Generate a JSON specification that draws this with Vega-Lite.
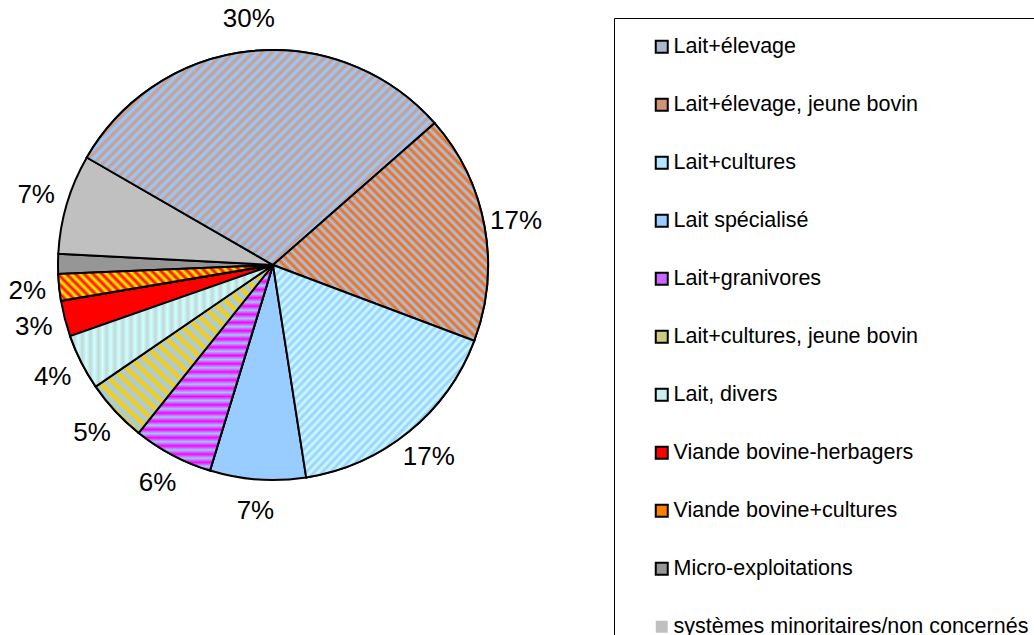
{
  "$schema": "https://vega.github.io/schema/vega-lite/v6.json",
  "width": 546,
  "height": 530,
  "autosize": {"type": "none"},
  "padding": {"left": 0, "top": 0, "right": 488, "bottom": 105},
  "background": "white",
  "config": {"view": {"stroke": null}, "font": "Liberation Sans"},
  "data": {
    "values": [
      {"ord": 1, "cat": "Lait+élevage", "pct": 30.2, "label": "30%"},
      {"ord": 2, "cat": "Lait+élevage, jeune bovin", "pct": 17.2, "label": "17%"},
      {"ord": 3, "cat": "Lait+cultures", "pct": 16.8, "label": "17%"},
      {"ord": 4, "cat": "Lait spécialisé", "pct": 7.2, "label": "7%"},
      {"ord": 5, "cat": "Lait+granivores", "pct": 6.0, "label": "6%"},
      {"ord": 6, "cat": "Lait+cultures, jeune bovin", "pct": 4.7, "label": "5%"},
      {"ord": 7, "cat": "Lait, divers", "pct": 4.2, "label": "4%"},
      {"ord": 8, "cat": "Viande bovine-herbagers", "pct": 2.7, "label": "3%"},
      {"ord": 9, "cat": "Viande bovine+cultures", "pct": 2.0, "label": "2%"},
      {"ord": 10, "cat": "Micro-exploitations", "pct": 1.5, "label": ""},
      {"ord": 11, "cat": "systèmes minoritaires/non concernés", "pct": 7.5, "label": "7%"}
    ]
  },
  "transform": [
    {"stack": "pct", "groupby": [], "sort": [{"field": "ord", "order": "ascending"}], "as": ["t0", "t1"]}
  ],
  "layer": [
    {
      "mark": {"type": "arc", "outerRadius": 215, "stroke": "black", "strokeWidth": 2},
      "encoding": {
        "theta": {"field": "t0", "type": "quantitative", "stack": null, "scale": {"domain": [0, 100], "range": [-1.0472, 5.23599]}},
        "theta2": {"field": "t1"},
        "color": {
          "field": "cat",
          "type": "nominal",
          "scale": {
            "domain": ["Lait+élevage", "Lait+élevage, jeune bovin", "Lait+cultures", "Lait spécialisé", "Lait+granivores", "Lait+cultures, jeune bovin", "Lait, divers", "Viande bovine-herbagers", "Viande bovine+cultures", "Micro-exploitations", "systèmes minoritaires/non concernés"],
            "range": ["#ADB8CC", "#D19473", "#B3E6FF", "#99CCFF", "#CC66FF", "#CCCC80", "#C9EFEF", "#FF0000", "#FF8000", "#969696", "#C0C0C0"]
          },
          "legend": {
            "title": null,
            "orient": "none",
            "legendX": 614,
            "legendY": 18,
            "padding": 18,
            "strokeColor": "black",
            "symbolType": "square",
            "symbolSize": 144,
            "symbolStrokeColor": "black",
            "symbolStrokeWidth": 2,
            "symbolOffset": 19,
            "labelOffset": 1,
            "labelFontSize": 21.5,
            "labelFont": "Liberation Sans",
            "labelColor": "black",
            "labelLimit": 600,
            "rowPadding": 35,
            "encode": {
              "symbols": {
                "update": {
                  "strokeWidth": {"signal": "datum.value === 'systèmes minoritaires/non concernés' ? 0 : 2"}
                }
              }
            }
          }
        }
      }
    },
    {
      "transform": [{"filter": "datum.ord === 1"}],
      "mark": {"type": "arc", "outerRadius": 215, "stroke": "black", "strokeWidth": 2,
        "fill": {"gradient": "linear", "x1": 0, "y1": 0, "x2": 1, "y2": 0.62, "stops": [
          {"offset":0,"color":"#99CCFF"},{"offset":0.01,"color":"#C99B8C"},{"offset":0.02,"color":"#99CCFF"},{"offset":0.03,"color":"#C99B8C"},{"offset":0.04,"color":"#99CCFF"},{"offset":0.05,"color":"#C99B8C"},{"offset":0.06,"color":"#99CCFF"},{"offset":0.07,"color":"#C99B8C"},{"offset":0.08,"color":"#99CCFF"},{"offset":0.09,"color":"#C99B8C"},
          {"offset":0.1,"color":"#99CCFF"},{"offset":0.11,"color":"#C99B8C"},{"offset":0.12,"color":"#99CCFF"},{"offset":0.13,"color":"#C99B8C"},{"offset":0.14,"color":"#99CCFF"},{"offset":0.15,"color":"#C99B8C"},{"offset":0.16,"color":"#99CCFF"},{"offset":0.17,"color":"#C99B8C"},{"offset":0.18,"color":"#99CCFF"},{"offset":0.19,"color":"#C99B8C"},
          {"offset":0.2,"color":"#99CCFF"},{"offset":0.21,"color":"#C99B8C"},{"offset":0.22,"color":"#99CCFF"},{"offset":0.23,"color":"#C99B8C"},{"offset":0.24,"color":"#99CCFF"},{"offset":0.25,"color":"#C99B8C"},{"offset":0.26,"color":"#99CCFF"},{"offset":0.27,"color":"#C99B8C"},{"offset":0.28,"color":"#99CCFF"},{"offset":0.29,"color":"#C99B8C"},
          {"offset":0.3,"color":"#99CCFF"},{"offset":0.31,"color":"#C99B8C"},{"offset":0.32,"color":"#99CCFF"},{"offset":0.33,"color":"#C99B8C"},{"offset":0.34,"color":"#99CCFF"},{"offset":0.35,"color":"#C99B8C"},{"offset":0.36,"color":"#99CCFF"},{"offset":0.37,"color":"#C99B8C"},{"offset":0.38,"color":"#99CCFF"},{"offset":0.39,"color":"#C99B8C"},
          {"offset":0.4,"color":"#99CCFF"},{"offset":0.41,"color":"#C99B8C"},{"offset":0.42,"color":"#99CCFF"},{"offset":0.43,"color":"#C99B8C"},{"offset":0.44,"color":"#99CCFF"},{"offset":0.45,"color":"#C99B8C"},{"offset":0.46,"color":"#99CCFF"},{"offset":0.47,"color":"#C99B8C"},{"offset":0.48,"color":"#99CCFF"},{"offset":0.49,"color":"#C99B8C"},
          {"offset":0.5,"color":"#99CCFF"},{"offset":0.51,"color":"#C99B8C"},{"offset":0.52,"color":"#99CCFF"},{"offset":0.53,"color":"#C99B8C"},{"offset":0.54,"color":"#99CCFF"},{"offset":0.55,"color":"#C99B8C"},{"offset":0.56,"color":"#99CCFF"},{"offset":0.57,"color":"#C99B8C"},{"offset":0.58,"color":"#99CCFF"},{"offset":0.59,"color":"#C99B8C"},
          {"offset":0.6,"color":"#99CCFF"},{"offset":0.61,"color":"#C99B8C"},{"offset":0.62,"color":"#99CCFF"},{"offset":0.63,"color":"#C99B8C"},{"offset":0.64,"color":"#99CCFF"},{"offset":0.65,"color":"#C99B8C"},{"offset":0.66,"color":"#99CCFF"},{"offset":0.67,"color":"#C99B8C"},{"offset":0.68,"color":"#99CCFF"},{"offset":0.69,"color":"#C99B8C"},
          {"offset":0.7,"color":"#99CCFF"},{"offset":0.71,"color":"#C99B8C"},{"offset":0.72,"color":"#99CCFF"},{"offset":0.73,"color":"#C99B8C"},{"offset":0.74,"color":"#99CCFF"},{"offset":0.75,"color":"#C99B8C"},{"offset":0.76,"color":"#99CCFF"},{"offset":0.77,"color":"#C99B8C"},{"offset":0.78,"color":"#99CCFF"},{"offset":0.79,"color":"#C99B8C"},
          {"offset":0.8,"color":"#99CCFF"},{"offset":0.81,"color":"#C99B8C"},{"offset":0.82,"color":"#99CCFF"},{"offset":0.83,"color":"#C99B8C"},{"offset":0.84,"color":"#99CCFF"},{"offset":0.85,"color":"#C99B8C"},{"offset":0.86,"color":"#99CCFF"},{"offset":0.87,"color":"#C99B8C"},{"offset":0.88,"color":"#99CCFF"},{"offset":0.89,"color":"#C99B8C"},
          {"offset":0.9,"color":"#99CCFF"},{"offset":0.91,"color":"#C99B8C"},{"offset":0.92,"color":"#99CCFF"},{"offset":0.93,"color":"#C99B8C"},{"offset":0.94,"color":"#99CCFF"},{"offset":0.95,"color":"#C99B8C"},{"offset":0.96,"color":"#99CCFF"},{"offset":0.97,"color":"#C99B8C"},{"offset":0.98,"color":"#99CCFF"},{"offset":0.99,"color":"#C99B8C"},
          {"offset":1,"color":"#99CCFF"}]}},
      "encoding": {
        "theta": {"field": "t0", "type": "quantitative", "stack": null},
        "theta2": {"field": "t1"}
      }
    },
    {
      "transform": [{"filter": "datum.ord === 2"}],
      "mark": {"type": "arc", "outerRadius": 215, "stroke": "black", "strokeWidth": 2,
        "fill": {"gradient": "linear", "x1": 0, "y1": 1, "x2": 1, "y2": 0, "stops": [
          {"offset":0,"color":"#FF6600"},{"offset":0.01,"color":"#99CCFF"},{"offset":0.02,"color":"#FF6600"},{"offset":0.03,"color":"#99CCFF"},{"offset":0.04,"color":"#FF6600"},{"offset":0.05,"color":"#99CCFF"},{"offset":0.06,"color":"#FF6600"},{"offset":0.07,"color":"#99CCFF"},{"offset":0.08,"color":"#FF6600"},{"offset":0.09,"color":"#99CCFF"},
          {"offset":0.1,"color":"#FF6600"},{"offset":0.11,"color":"#99CCFF"},{"offset":0.12,"color":"#FF6600"},{"offset":0.13,"color":"#99CCFF"},{"offset":0.14,"color":"#FF6600"},{"offset":0.15,"color":"#99CCFF"},{"offset":0.16,"color":"#FF6600"},{"offset":0.17,"color":"#99CCFF"},{"offset":0.18,"color":"#FF6600"},{"offset":0.19,"color":"#99CCFF"},
          {"offset":0.2,"color":"#FF6600"},{"offset":0.21,"color":"#99CCFF"},{"offset":0.22,"color":"#FF6600"},{"offset":0.23,"color":"#99CCFF"},{"offset":0.24,"color":"#FF6600"},{"offset":0.25,"color":"#99CCFF"},{"offset":0.26,"color":"#FF6600"},{"offset":0.27,"color":"#99CCFF"},{"offset":0.28,"color":"#FF6600"},{"offset":0.29,"color":"#99CCFF"},
          {"offset":0.3,"color":"#FF6600"},{"offset":0.31,"color":"#99CCFF"},{"offset":0.32,"color":"#FF6600"},{"offset":0.33,"color":"#99CCFF"},{"offset":0.34,"color":"#FF6600"},{"offset":0.35,"color":"#99CCFF"},{"offset":0.36,"color":"#FF6600"},{"offset":0.37,"color":"#99CCFF"},{"offset":0.38,"color":"#FF6600"},{"offset":0.39,"color":"#99CCFF"},
          {"offset":0.4,"color":"#FF6600"},{"offset":0.41,"color":"#99CCFF"},{"offset":0.42,"color":"#FF6600"},{"offset":0.43,"color":"#99CCFF"},{"offset":0.44,"color":"#FF6600"},{"offset":0.45,"color":"#99CCFF"},{"offset":0.46,"color":"#FF6600"},{"offset":0.47,"color":"#99CCFF"},{"offset":0.48,"color":"#FF6600"},{"offset":0.49,"color":"#99CCFF"},
          {"offset":0.5,"color":"#FF6600"},{"offset":0.51,"color":"#99CCFF"},{"offset":0.52,"color":"#FF6600"},{"offset":0.53,"color":"#99CCFF"},{"offset":0.54,"color":"#FF6600"},{"offset":0.55,"color":"#99CCFF"},{"offset":0.56,"color":"#FF6600"},{"offset":0.57,"color":"#99CCFF"},{"offset":0.58,"color":"#FF6600"},{"offset":0.59,"color":"#99CCFF"},
          {"offset":0.6,"color":"#FF6600"},{"offset":0.61,"color":"#99CCFF"},{"offset":0.62,"color":"#FF6600"},{"offset":0.63,"color":"#99CCFF"},{"offset":0.64,"color":"#FF6600"},{"offset":0.65,"color":"#99CCFF"},{"offset":0.66,"color":"#FF6600"},{"offset":0.67,"color":"#99CCFF"},{"offset":0.68,"color":"#FF6600"},{"offset":0.69,"color":"#99CCFF"},
          {"offset":0.7,"color":"#FF6600"},{"offset":0.71,"color":"#99CCFF"},{"offset":0.72,"color":"#FF6600"},{"offset":0.73,"color":"#99CCFF"},{"offset":0.74,"color":"#FF6600"},{"offset":0.75,"color":"#99CCFF"},{"offset":0.76,"color":"#FF6600"},{"offset":0.77,"color":"#99CCFF"},{"offset":0.78,"color":"#FF6600"},{"offset":0.79,"color":"#99CCFF"},
          {"offset":0.8,"color":"#FF6600"},{"offset":0.81,"color":"#99CCFF"},{"offset":0.82,"color":"#FF6600"},{"offset":0.83,"color":"#99CCFF"},{"offset":0.84,"color":"#FF6600"},{"offset":0.85,"color":"#99CCFF"},{"offset":0.86,"color":"#FF6600"},{"offset":0.87,"color":"#99CCFF"},{"offset":0.88,"color":"#FF6600"},{"offset":0.89,"color":"#99CCFF"},
          {"offset":0.9,"color":"#FF6600"},{"offset":0.91,"color":"#99CCFF"},{"offset":0.92,"color":"#FF6600"},{"offset":0.93,"color":"#99CCFF"},{"offset":0.94,"color":"#FF6600"},{"offset":0.95,"color":"#99CCFF"},{"offset":0.96,"color":"#FF6600"},{"offset":0.97,"color":"#99CCFF"},{"offset":0.98,"color":"#FF6600"},{"offset":0.99,"color":"#99CCFF"},
          {"offset":1,"color":"#FF6600"}]}},
      "encoding": {
        "theta": {"field": "t0", "type": "quantitative", "stack": null},
        "theta2": {"field": "t1"}
      }
    },
    {
      "transform": [{"filter": "datum.ord === 3"}],
      "mark": {"type": "arc", "outerRadius": 215, "stroke": "black", "strokeWidth": 2,
        "fill": {"gradient": "linear", "x1": 0, "y1": 0, "x2": 1, "y2": 1, "stops": [
          {"offset":0,"color":"#CCFFFF"},{"offset":0.01,"color":"#99CCFF"},{"offset":0.02,"color":"#CCFFFF"},{"offset":0.03,"color":"#99CCFF"},{"offset":0.04,"color":"#CCFFFF"},{"offset":0.05,"color":"#99CCFF"},{"offset":0.06,"color":"#CCFFFF"},{"offset":0.07,"color":"#99CCFF"},{"offset":0.08,"color":"#CCFFFF"},{"offset":0.09,"color":"#99CCFF"},
          {"offset":0.1,"color":"#CCFFFF"},{"offset":0.11,"color":"#99CCFF"},{"offset":0.12,"color":"#CCFFFF"},{"offset":0.13,"color":"#99CCFF"},{"offset":0.14,"color":"#CCFFFF"},{"offset":0.15,"color":"#99CCFF"},{"offset":0.16,"color":"#CCFFFF"},{"offset":0.17,"color":"#99CCFF"},{"offset":0.18,"color":"#CCFFFF"},{"offset":0.19,"color":"#99CCFF"},
          {"offset":0.2,"color":"#CCFFFF"},{"offset":0.21,"color":"#99CCFF"},{"offset":0.22,"color":"#CCFFFF"},{"offset":0.23,"color":"#99CCFF"},{"offset":0.24,"color":"#CCFFFF"},{"offset":0.25,"color":"#99CCFF"},{"offset":0.26,"color":"#CCFFFF"},{"offset":0.27,"color":"#99CCFF"},{"offset":0.28,"color":"#CCFFFF"},{"offset":0.29,"color":"#99CCFF"},
          {"offset":0.3,"color":"#CCFFFF"},{"offset":0.31,"color":"#99CCFF"},{"offset":0.32,"color":"#CCFFFF"},{"offset":0.33,"color":"#99CCFF"},{"offset":0.34,"color":"#CCFFFF"},{"offset":0.35,"color":"#99CCFF"},{"offset":0.36,"color":"#CCFFFF"},{"offset":0.37,"color":"#99CCFF"},{"offset":0.38,"color":"#CCFFFF"},{"offset":0.39,"color":"#99CCFF"},
          {"offset":0.4,"color":"#CCFFFF"},{"offset":0.41,"color":"#99CCFF"},{"offset":0.42,"color":"#CCFFFF"},{"offset":0.43,"color":"#99CCFF"},{"offset":0.44,"color":"#CCFFFF"},{"offset":0.45,"color":"#99CCFF"},{"offset":0.46,"color":"#CCFFFF"},{"offset":0.47,"color":"#99CCFF"},{"offset":0.48,"color":"#CCFFFF"},{"offset":0.49,"color":"#99CCFF"},
          {"offset":0.5,"color":"#CCFFFF"},{"offset":0.51,"color":"#99CCFF"},{"offset":0.52,"color":"#CCFFFF"},{"offset":0.53,"color":"#99CCFF"},{"offset":0.54,"color":"#CCFFFF"},{"offset":0.55,"color":"#99CCFF"},{"offset":0.56,"color":"#CCFFFF"},{"offset":0.57,"color":"#99CCFF"},{"offset":0.58,"color":"#CCFFFF"},{"offset":0.59,"color":"#99CCFF"},
          {"offset":0.6,"color":"#CCFFFF"},{"offset":0.61,"color":"#99CCFF"},{"offset":0.62,"color":"#CCFFFF"},{"offset":0.63,"color":"#99CCFF"},{"offset":0.64,"color":"#CCFFFF"},{"offset":0.65,"color":"#99CCFF"},{"offset":0.66,"color":"#CCFFFF"},{"offset":0.67,"color":"#99CCFF"},{"offset":0.68,"color":"#CCFFFF"},{"offset":0.69,"color":"#99CCFF"},
          {"offset":0.7,"color":"#CCFFFF"},{"offset":0.71,"color":"#99CCFF"},{"offset":0.72,"color":"#CCFFFF"},{"offset":0.73,"color":"#99CCFF"},{"offset":0.74,"color":"#CCFFFF"},{"offset":0.75,"color":"#99CCFF"},{"offset":0.76,"color":"#CCFFFF"},{"offset":0.77,"color":"#99CCFF"},{"offset":0.78,"color":"#CCFFFF"},{"offset":0.79,"color":"#99CCFF"},
          {"offset":0.8,"color":"#CCFFFF"},{"offset":0.81,"color":"#99CCFF"},{"offset":0.82,"color":"#CCFFFF"},{"offset":0.83,"color":"#99CCFF"},{"offset":0.84,"color":"#CCFFFF"},{"offset":0.85,"color":"#99CCFF"},{"offset":0.86,"color":"#CCFFFF"},{"offset":0.87,"color":"#99CCFF"},{"offset":0.88,"color":"#CCFFFF"},{"offset":0.89,"color":"#99CCFF"},
          {"offset":0.9,"color":"#CCFFFF"},{"offset":0.91,"color":"#99CCFF"},{"offset":0.92,"color":"#CCFFFF"},{"offset":0.93,"color":"#99CCFF"},{"offset":0.94,"color":"#CCFFFF"},{"offset":0.95,"color":"#99CCFF"},{"offset":0.96,"color":"#CCFFFF"},{"offset":0.97,"color":"#99CCFF"},{"offset":0.98,"color":"#CCFFFF"},{"offset":0.99,"color":"#99CCFF"},
          {"offset":1,"color":"#CCFFFF"}]}},
      "encoding": {
        "theta": {"field": "t0", "type": "quantitative", "stack": null},
        "theta2": {"field": "t1"}
      }
    },
    {
      "transform": [{"filter": "datum.ord === 5"}],
      "mark": {"type": "arc", "outerRadius": 215, "stroke": "black", "strokeWidth": 2,
        "fill": {"gradient": "linear", "x1": 0, "y1": 0, "x2": 0, "y2": 1, "stops": [
          {"offset":0,"color":"#FF00FF"},{"offset":0.02,"color":"#99CCFF"},{"offset":0.04,"color":"#FF00FF"},{"offset":0.06,"color":"#99CCFF"},{"offset":0.08,"color":"#FF00FF"},{"offset":0.1,"color":"#99CCFF"},{"offset":0.12,"color":"#FF00FF"},{"offset":0.14,"color":"#99CCFF"},{"offset":0.16,"color":"#FF00FF"},{"offset":0.18,"color":"#99CCFF"},
          {"offset":0.2,"color":"#FF00FF"},{"offset":0.22,"color":"#99CCFF"},{"offset":0.24,"color":"#FF00FF"},{"offset":0.26,"color":"#99CCFF"},{"offset":0.28,"color":"#FF00FF"},{"offset":0.3,"color":"#99CCFF"},{"offset":0.32,"color":"#FF00FF"},{"offset":0.34,"color":"#99CCFF"},{"offset":0.36,"color":"#FF00FF"},{"offset":0.38,"color":"#99CCFF"},
          {"offset":0.4,"color":"#FF00FF"},{"offset":0.42,"color":"#99CCFF"},{"offset":0.44,"color":"#FF00FF"},{"offset":0.46,"color":"#99CCFF"},{"offset":0.48,"color":"#FF00FF"},{"offset":0.5,"color":"#99CCFF"},{"offset":0.52,"color":"#FF00FF"},{"offset":0.54,"color":"#99CCFF"},{"offset":0.56,"color":"#FF00FF"},{"offset":0.58,"color":"#99CCFF"},
          {"offset":0.6,"color":"#FF00FF"},{"offset":0.62,"color":"#99CCFF"},{"offset":0.64,"color":"#FF00FF"},{"offset":0.66,"color":"#99CCFF"},{"offset":0.68,"color":"#FF00FF"},{"offset":0.7,"color":"#99CCFF"},{"offset":0.72,"color":"#FF00FF"},{"offset":0.74,"color":"#99CCFF"},{"offset":0.76,"color":"#FF00FF"},{"offset":0.78,"color":"#99CCFF"},
          {"offset":0.8,"color":"#FF00FF"},{"offset":0.82,"color":"#99CCFF"},{"offset":0.84,"color":"#FF00FF"},{"offset":0.86,"color":"#99CCFF"},{"offset":0.88,"color":"#FF00FF"},{"offset":0.9,"color":"#99CCFF"},{"offset":0.92,"color":"#FF00FF"},{"offset":0.94,"color":"#99CCFF"},{"offset":0.96,"color":"#FF00FF"},{"offset":0.98,"color":"#99CCFF"},
          {"offset":1,"color":"#FF00FF"}]}},
      "encoding": {
        "theta": {"field": "t0", "type": "quantitative", "stack": null},
        "theta2": {"field": "t1"}
      }
    },
    {
      "transform": [{"filter": "datum.ord === 6"}],
      "mark": {"type": "arc", "outerRadius": 215, "stroke": "black", "strokeWidth": 2,
        "fill": {"gradient": "linear", "x1": 0, "y1": 1, "x2": 1, "y2": 0, "stops": [
          {"offset":0,"color":"#FFCC00"},{"offset":0.02,"color":"#99CCFF"},{"offset":0.04,"color":"#FFCC00"},{"offset":0.06,"color":"#99CCFF"},{"offset":0.08,"color":"#FFCC00"},{"offset":0.1,"color":"#99CCFF"},{"offset":0.12,"color":"#FFCC00"},{"offset":0.14,"color":"#99CCFF"},{"offset":0.16,"color":"#FFCC00"},{"offset":0.18,"color":"#99CCFF"},
          {"offset":0.2,"color":"#FFCC00"},{"offset":0.22,"color":"#99CCFF"},{"offset":0.24,"color":"#FFCC00"},{"offset":0.26,"color":"#99CCFF"},{"offset":0.28,"color":"#FFCC00"},{"offset":0.3,"color":"#99CCFF"},{"offset":0.32,"color":"#FFCC00"},{"offset":0.34,"color":"#99CCFF"},{"offset":0.36,"color":"#FFCC00"},{"offset":0.38,"color":"#99CCFF"},
          {"offset":0.4,"color":"#FFCC00"},{"offset":0.42,"color":"#99CCFF"},{"offset":0.44,"color":"#FFCC00"},{"offset":0.46,"color":"#99CCFF"},{"offset":0.48,"color":"#FFCC00"},{"offset":0.5,"color":"#99CCFF"},{"offset":0.52,"color":"#FFCC00"},{"offset":0.54,"color":"#99CCFF"},{"offset":0.56,"color":"#FFCC00"},{"offset":0.58,"color":"#99CCFF"},
          {"offset":0.6,"color":"#FFCC00"},{"offset":0.62,"color":"#99CCFF"},{"offset":0.64,"color":"#FFCC00"},{"offset":0.66,"color":"#99CCFF"},{"offset":0.68,"color":"#FFCC00"},{"offset":0.7,"color":"#99CCFF"},{"offset":0.72,"color":"#FFCC00"},{"offset":0.74,"color":"#99CCFF"},{"offset":0.76,"color":"#FFCC00"},{"offset":0.78,"color":"#99CCFF"},
          {"offset":0.8,"color":"#FFCC00"},{"offset":0.82,"color":"#99CCFF"},{"offset":0.84,"color":"#FFCC00"},{"offset":0.86,"color":"#99CCFF"},{"offset":0.88,"color":"#FFCC00"},{"offset":0.9,"color":"#99CCFF"},{"offset":0.92,"color":"#FFCC00"},{"offset":0.94,"color":"#99CCFF"},{"offset":0.96,"color":"#FFCC00"},{"offset":0.98,"color":"#99CCFF"},
          {"offset":1,"color":"#FFCC00"}]}},
      "encoding": {
        "theta": {"field": "t0", "type": "quantitative", "stack": null},
        "theta2": {"field": "t1"}
      }
    },
    {
      "transform": [{"filter": "datum.ord === 7"}],
      "mark": {"type": "arc", "outerRadius": 215, "stroke": "black", "strokeWidth": 2,
        "fill": {"gradient": "linear", "x1": 0, "y1": 0, "x2": 1, "y2": 0, "stops": [
          {"offset":0,"color":"#CCFFFF"},{"offset":0.02,"color":"#C2D8D8"},{"offset":0.04,"color":"#CCFFFF"},{"offset":0.06,"color":"#C2D8D8"},{"offset":0.08,"color":"#CCFFFF"},{"offset":0.1,"color":"#C2D8D8"},{"offset":0.12,"color":"#CCFFFF"},{"offset":0.14,"color":"#C2D8D8"},{"offset":0.16,"color":"#CCFFFF"},{"offset":0.18,"color":"#C2D8D8"},
          {"offset":0.2,"color":"#CCFFFF"},{"offset":0.22,"color":"#C2D8D8"},{"offset":0.24,"color":"#CCFFFF"},{"offset":0.26,"color":"#C2D8D8"},{"offset":0.28,"color":"#CCFFFF"},{"offset":0.3,"color":"#C2D8D8"},{"offset":0.32,"color":"#CCFFFF"},{"offset":0.34,"color":"#C2D8D8"},{"offset":0.36,"color":"#CCFFFF"},{"offset":0.38,"color":"#C2D8D8"},
          {"offset":0.4,"color":"#CCFFFF"},{"offset":0.42,"color":"#C2D8D8"},{"offset":0.44,"color":"#CCFFFF"},{"offset":0.46,"color":"#C2D8D8"},{"offset":0.48,"color":"#CCFFFF"},{"offset":0.5,"color":"#C2D8D8"},{"offset":0.52,"color":"#CCFFFF"},{"offset":0.54,"color":"#C2D8D8"},{"offset":0.56,"color":"#CCFFFF"},{"offset":0.58,"color":"#C2D8D8"},
          {"offset":0.6,"color":"#CCFFFF"},{"offset":0.62,"color":"#C2D8D8"},{"offset":0.64,"color":"#CCFFFF"},{"offset":0.66,"color":"#C2D8D8"},{"offset":0.68,"color":"#CCFFFF"},{"offset":0.7,"color":"#C2D8D8"},{"offset":0.72,"color":"#CCFFFF"},{"offset":0.74,"color":"#C2D8D8"},{"offset":0.76,"color":"#CCFFFF"},{"offset":0.78,"color":"#C2D8D8"},
          {"offset":0.8,"color":"#CCFFFF"},{"offset":0.82,"color":"#C2D8D8"},{"offset":0.84,"color":"#CCFFFF"},{"offset":0.86,"color":"#C2D8D8"},{"offset":0.88,"color":"#CCFFFF"},{"offset":0.9,"color":"#C2D8D8"},{"offset":0.92,"color":"#CCFFFF"},{"offset":0.94,"color":"#C2D8D8"},{"offset":0.96,"color":"#CCFFFF"},{"offset":0.98,"color":"#C2D8D8"},
          {"offset":1,"color":"#CCFFFF"}]}},
      "encoding": {
        "theta": {"field": "t0", "type": "quantitative", "stack": null},
        "theta2": {"field": "t1"}
      }
    },
    {
      "transform": [{"filter": "datum.ord === 9"}],
      "mark": {"type": "arc", "outerRadius": 215, "stroke": "black", "strokeWidth": 2,
        "fill": {"gradient": "linear", "x1": 0, "y1": 1, "x2": 1, "y2": 0.833, "stops": [
          {"offset":0,"color":"#FF0000"},{"offset":0.02,"color":"#FFFF00"},{"offset":0.04,"color":"#FF0000"},{"offset":0.06,"color":"#FFFF00"},{"offset":0.08,"color":"#FF0000"},{"offset":0.1,"color":"#FFFF00"},{"offset":0.12,"color":"#FF0000"},{"offset":0.14,"color":"#FFFF00"},{"offset":0.16,"color":"#FF0000"},{"offset":0.18,"color":"#FFFF00"},
          {"offset":0.2,"color":"#FF0000"},{"offset":0.22,"color":"#FFFF00"},{"offset":0.24,"color":"#FF0000"},{"offset":0.26,"color":"#FFFF00"},{"offset":0.28,"color":"#FF0000"},{"offset":0.3,"color":"#FFFF00"},{"offset":0.32,"color":"#FF0000"},{"offset":0.34,"color":"#FFFF00"},{"offset":0.36,"color":"#FF0000"},{"offset":0.38,"color":"#FFFF00"},
          {"offset":0.4,"color":"#FF0000"},{"offset":0.42,"color":"#FFFF00"},{"offset":0.44,"color":"#FF0000"},{"offset":0.46,"color":"#FFFF00"},{"offset":0.48,"color":"#FF0000"},{"offset":0.5,"color":"#FFFF00"},{"offset":0.52,"color":"#FF0000"},{"offset":0.54,"color":"#FFFF00"},{"offset":0.56,"color":"#FF0000"},{"offset":0.58,"color":"#FFFF00"},
          {"offset":0.6,"color":"#FF0000"},{"offset":0.62,"color":"#FFFF00"},{"offset":0.64,"color":"#FF0000"},{"offset":0.66,"color":"#FFFF00"},{"offset":0.68,"color":"#FF0000"},{"offset":0.7,"color":"#FFFF00"},{"offset":0.72,"color":"#FF0000"},{"offset":0.74,"color":"#FFFF00"},{"offset":0.76,"color":"#FF0000"},{"offset":0.78,"color":"#FFFF00"},
          {"offset":0.8,"color":"#FF0000"},{"offset":0.82,"color":"#FFFF00"},{"offset":0.84,"color":"#FF0000"},{"offset":0.86,"color":"#FFFF00"},{"offset":0.88,"color":"#FF0000"},{"offset":0.9,"color":"#FFFF00"},{"offset":0.92,"color":"#FF0000"},{"offset":0.94,"color":"#FFFF00"},{"offset":0.96,"color":"#FF0000"},{"offset":0.98,"color":"#FFFF00"},
          {"offset":1,"color":"#FF0000"}]}},
      "encoding": {
        "theta": {"field": "t0", "type": "quantitative", "stack": null},
        "theta2": {"field": "t1"}
      }
    },
    {
      "mark": {"type": "text", "radius": 247, "fontSize": 26, "font": "Liberation Sans", "color": "black"},
      "encoding": {
        "theta": {"field": "pct", "type": "quantitative", "stack": true},
        "order": {"field": "ord", "type": "quantitative"},
        "text": {"field": "label", "type": "nominal"}
      }
    }
  ]
}
